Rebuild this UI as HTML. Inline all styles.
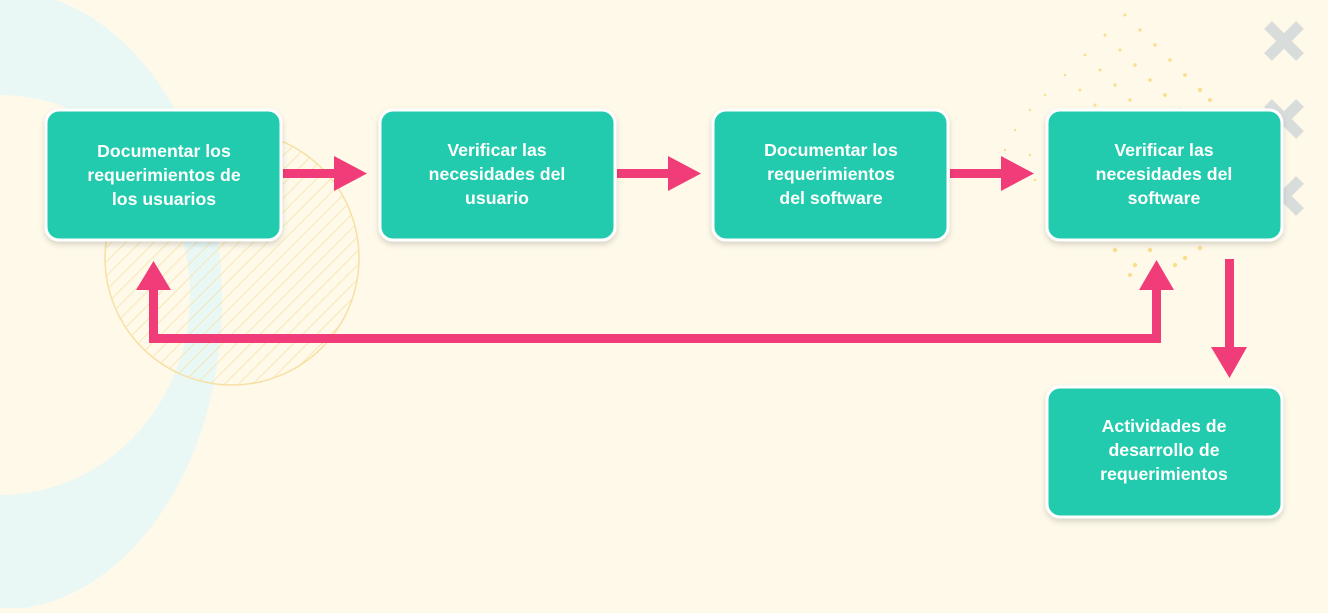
<!DOCTYPE html>
<html><head><meta charset="utf-8"><style>
body{margin:0;width:1328px;height:608px;overflow:hidden;background:#fef9e9;font-family:"Liberation Sans",sans-serif}
</style></head><body>
<svg width="1328" height="608" xmlns="http://www.w3.org/2000/svg">
<defs>
<pattern id="h" width="10" height="10" patternUnits="userSpaceOnUse" patternTransform="rotate(45)">
<line x1="0" y1="0" x2="0" y2="10" stroke="#f7dd9a" stroke-width="1.3"/></pattern>
<filter id="s" x="-10%" y="-10%" width="130%" height="140%"><feDropShadow dx="0" dy="3" stdDeviation="3" flood-color="#000" flood-opacity="0.15"/></filter>
</defs>
<ellipse cx="0" cy="300" rx="222" ry="310" fill="#e9f8f5"/>
<ellipse cx="0" cy="295" rx="190" ry="200" fill="#fef9e9"/>
<circle cx="232" cy="258" r="127" fill="url(#h)" stroke="#f7e0a5" stroke-width="1.5"/>
<g fill="#f8d874" opacity="0.8">
<circle cx="1125" cy="15" r="1.5"/><circle cx="1140" cy="30" r="1.6"/><circle cx="1155" cy="45" r="1.7"/><circle cx="1170" cy="60" r="1.8"/><circle cx="1185" cy="75" r="1.9"/><circle cx="1200" cy="90" r="2"/><circle cx="1210" cy="100" r="2"/>
<circle cx="1105" cy="35" r="1.5"/><circle cx="1120" cy="50" r="1.6"/><circle cx="1135" cy="65" r="1.7"/><circle cx="1150" cy="80" r="1.8"/><circle cx="1165" cy="95" r="1.9"/><circle cx="1180" cy="110" r="2"/>
<circle cx="1085" cy="55" r="1.4"/><circle cx="1100" cy="70" r="1.5"/><circle cx="1115" cy="85" r="1.6"/><circle cx="1130" cy="100" r="1.7"/><circle cx="1145" cy="115" r="1.8"/>
<circle cx="1065" cy="75" r="1.3"/><circle cx="1080" cy="90" r="1.4"/><circle cx="1095" cy="105" r="1.5"/>
<circle cx="1045" cy="95" r="1.2"/><circle cx="1030" cy="110" r="1.2"/><circle cx="1015" cy="130" r="1.2"/><circle cx="1005" cy="150" r="1.2"/><circle cx="1030" cy="155" r="1.3"/><circle cx="1035" cy="180" r="1.3"/>
<circle cx="1115" cy="250" r="2.2"/><circle cx="1135" cy="265" r="2.2"/><circle cx="1150" cy="250" r="2.2"/><circle cx="1175" cy="265" r="2.2"/><circle cx="1200" cy="248" r="2.2"/><circle cx="1185" cy="258" r="2.2"/><circle cx="1130" cy="275" r="2"/>
</g>
<g stroke="#d8dcda" stroke-width="11">
<path d="M1268 25 L1300 57 M1300 25 L1268 57"/>
<path d="M1268 103 L1300 135 M1300 103 L1268 135"/>
<path d="M1268 180 L1300 212 M1300 180 L1268 212"/>
</g>
<g fill="#f03c78">
<rect x="283" y="169" width="55" height="9"/><polygon points="334,156 367,173.5 334,191"/>
<rect x="617" y="169" width="55" height="9"/><polygon points="668,156 701,173.5 668,191"/>
<rect x="950" y="169" width="55" height="9"/><polygon points="1001,156 1034,173.5 1001,191"/>
<rect x="149" y="285" width="9" height="57"/><polygon points="136,290 153.5,261 171,290"/>
<rect x="149" y="334" width="1012" height="9"/>
<rect x="1152" y="285" width="9" height="57"/><polygon points="1139,290 1156.5,260 1174,290"/>
<rect x="1225" y="259" width="9" height="92"/><polygon points="1211,347 1229.5,378 1247,347"/>
</g>
<g fill="#22cbad" stroke="#fff" stroke-width="3" filter="url(#s)">
<rect x="46" y="110" width="235" height="130" rx="13"/>
<rect x="380" y="110" width="235" height="130" rx="13"/>
<rect x="713" y="110" width="235" height="130" rx="13"/>
<rect x="1047" y="110" width="235" height="130" rx="13"/>
<rect x="1047" y="387" width="235" height="130" rx="13"/>
</g>
<g fill="#fff" font-family="Liberation Sans, sans-serif" font-weight="bold" font-size="17.7" text-anchor="middle">
<text x="164" y="157">Documentar los</text><text x="164" y="181">requerimientos de</text><text x="164" y="205">los usuarios</text>
<text x="497" y="156">Verificar las</text><text x="497" y="180">necesidades del</text><text x="497" y="204">usuario</text>
<text x="831" y="156">Documentar los</text><text x="831" y="180">requerimientos</text><text x="831" y="204">del software</text>
<text x="1164" y="156">Verificar las</text><text x="1164" y="180">necesidades del</text><text x="1164" y="204">software</text>
<text x="1164" y="432">Actividades de</text><text x="1164" y="456">desarrollo de</text><text x="1164" y="480">requerimientos</text>
</g>
</svg>
</body></html>
